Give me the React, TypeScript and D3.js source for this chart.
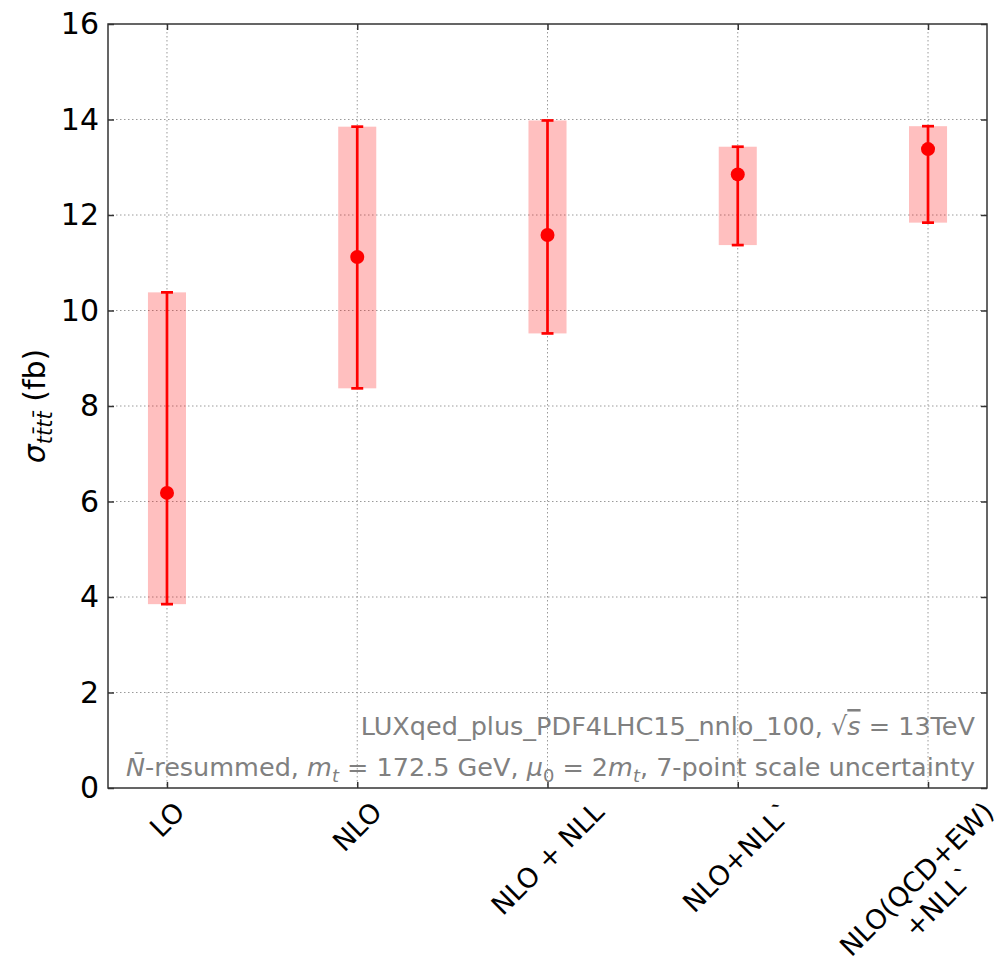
import React, { useEffect, useRef } from "react";
import * as d3 from "d3";

// cross sections (fb)
const categories = ["LO", "NLO", "NLO + NLL", "NLO+NLL`", "NLO(QCD+EW)\n+NLL`"];
const centralValues = [6.18, 11.12, 11.58, 12.85, 13.38];
const lowerValues = [3.85, 8.37, 9.52, 11.37, 11.84];
const upperValues = [10.38, 13.85, 13.98, 13.43, 13.86];
const yTicks = [0, 2, 4, 6, 8, 10, 12, 14, 16];

type Seg = { t: string; it?: boolean; sub?: boolean; over?: boolean };

const noteLine1: Seg[] = [
  { t: "LUXqed_plus_PDF4LHC15_nnlo_100, √" },
  { t: "s", it: true, over: true },
  { t: " = 13TeV" },
];
const noteLine2: Seg[] = [
  { t: "N\u0304", it: true },
  { t: "-resummed, " },
  { t: "m", it: true },
  { t: "t", it: true, sub: true },
  { t: " = 172.5 GeV, " },
  { t: "μ", it: true },
  { t: "0", sub: true },
  { t: " = 2" },
  { t: "m", it: true },
  { t: "t", it: true, sub: true },
  { t: ", 7-point scale uncertainty" },
];
const yLabel: Seg[] = [
  { t: "σ", it: true },
  { t: "tt\u0304tt\u0304", it: true, sub: true },
  { t: " (fb)" },
];

function addSegs(text: any, segs: Seg[], size: number) {
  const subSize = size * 0.7;
  let shifted = false;
  segs.forEach((s) => {
    const ts = text.append("tspan").text(s.t);
    if (s.it) ts.attr("font-style", "italic");
    if (s.over) ts.style("text-decoration", "overline");
    if (s.sub) {
      ts.attr("font-size", subSize).attr("dy", shifted ? 0 : size * 0.22);
      shifted = true;
    } else if (shifted) {
      ts.attr("dy", -size * 0.22);
      shifted = false;
    }
  });
}

export default function App() {
  const ref = useRef<SVGSVGElement>(null);

  useEffect(() => {
    document.body.style.margin = "0";
    const svgEl = ref.current;
    if (!svgEl) return;
    const svg = d3.select(svgEl);
    svg.selectAll("*").remove();

    const margin = { top: 24, right: 10, bottom: 168, left: 108 };
    const width = 997 - margin.left - margin.right;
    const height = 956 - margin.top - margin.bottom;
    const font = "DejaVu Sans";

    const g = svg
      .append("g")
      .attr("transform", `translate(${margin.left},${margin.top})`);

    const x = d3.scaleLinear().domain([-0.31, 4.31]).range([0, width]);
    const y = d3.scaleLinear().domain([0, 16]).range([height, 0]);
    const idx = categories.map((_, i) => i);

    // grid
    const grid = g.append("g").attr("stroke", "#9a9a9a").attr("stroke-width", 1).attr("stroke-dasharray", "1.5,2.5");
    grid
      .selectAll("line.h")
      .data(yTicks.slice(1, -1))
      .join("line")
      .attr("x1", 0)
      .attr("x2", width)
      .attr("y1", (d) => y(d))
      .attr("y2", (d) => y(d));
    grid
      .selectAll("line.v")
      .data(idx)
      .join("line")
      .attr("class", "v")
      .attr("x1", (d) => x(d))
      .attr("x2", (d) => x(d))
      .attr("y1", 0)
      .attr("y2", height);

    // scale-uncertainty bands
    g.selectAll("rect.band")
      .data(idx)
      .join("rect")
      .attr("x", (i) => x(i - 0.1))
      .attr("width", (i) => x(i + 0.1) - x(i - 0.1))
      .attr("y", (i) => y(upperValues[i]))
      .attr("height", (i) => y(lowerValues[i]) - y(upperValues[i]))
      .attr("fill", "#ff0000")
      .attr("fill-opacity", 0.25);

    // error bars
    const eb = g.append("g").attr("stroke", "#ff0000").attr("stroke-width", 2.7);
    eb.selectAll("line.bar")
      .data(idx)
      .join("line")
      .attr("x1", (i) => x(i))
      .attr("x2", (i) => x(i))
      .attr("y1", (i) => y(lowerValues[i]))
      .attr("y2", (i) => y(upperValues[i]));
    [lowerValues, upperValues].forEach((vals) => {
      eb.append("g")
        .selectAll("line")
        .data(idx)
        .join("line")
        .attr("x1", (i) => x(i) - 6)
        .attr("x2", (i) => x(i) + 6)
        .attr("y1", (i) => y(vals[i]))
        .attr("y2", (i) => y(vals[i]));
    });

    g.selectAll("circle")
      .data(idx)
      .join("circle")
      .attr("cx", (i) => x(i))
      .attr("cy", (i) => y(centralValues[i]))
      .attr("r", 7)
      .attr("fill", "#ff0000");

    // axes: inward ticks on all four sides
    const tick = 6;
    const left = g.append("g").call(
      d3.axisLeft(y).tickValues(yTicks).tickSizeInner(-tick).tickSizeOuter(0).tickPadding(9)
    );
    left.selectAll("text").attr("font-size", 30).attr("font-family", font).attr("fill", "#000");
    g.append("g")
      .attr("transform", `translate(${width},0)`)
      .call(d3.axisRight(y).tickValues(yTicks).tickSizeInner(-tick).tickSizeOuter(0).tickFormat(() => ""));
    g.append("g")
      .call(d3.axisTop(x).tickValues(idx).tickSizeInner(-tick).tickSizeOuter(0).tickFormat(() => ""));
    g.append("g")
      .attr("transform", `translate(0,${height})`)
      .call(d3.axisBottom(x).tickValues(idx).tickSizeInner(-tick).tickSizeOuter(0).tickFormat(() => ""));
    g.selectAll(".domain").remove();
    g.selectAll(".tick line").attr("stroke", "#333").attr("stroke-width", 1.5);

    g.append("rect")
      .attr("width", width)
      .attr("height", height)
      .attr("fill", "none")
      .attr("stroke", "#333")
      .attr("stroke-width", 1.5);

    // rotated category labels (bbox centred on tick, top below axis)
    const xl = 27;
    categories.forEach((c, i) => {
      const lines = c.split("\n");
      const lg = g.append("g").attr("transform", `translate(${x(i)},${height})`);
      const t = lg
        .append("text")
        .attr("transform", "rotate(-45)")
        .attr("text-anchor", "middle")
        .attr("font-family", font)
        .attr("font-size", xl);
      lines.forEach((ln, j) => {
        t.append("tspan")
          .attr("x", 0)
          .attr("dy", j === 0 ? `${0.35 - (lines.length - 1) * 0.6}em` : "1.2em")
          .text(ln);
      });
      const h = (lg.node() as SVGGElement).getBoundingClientRect().height;
      lg.attr("transform", `translate(${x(i)},${height + 8 + h / 2})`);
    });

    // y label
    const yl = g
      .append("text")
      .attr("transform", `translate(${45 - margin.left},${height / 2}) rotate(-90)`)
      .attr("text-anchor", "middle")
      .attr("font-family", font)
      .attr("font-size", 30);
    addSegs(yl, yLabel, 30);

    // annotation
    [noteLine1, noteLine2].forEach((segs, k) => {
      const t = g
        .append("text")
        .attr("x", 975 - margin.left)
        .attr("y", [735, 776][k] - margin.top)
        .attr("text-anchor", "end")
        .attr("font-family", font)
        .attr("font-size", 25.5)
        .attr("fill", "#808080");
      addSegs(t, segs, 25.5);
    });
  }, []);

  return <svg ref={ref} width={997} height={956} style={{ display: "block", background: "#fff" }} />;
}
